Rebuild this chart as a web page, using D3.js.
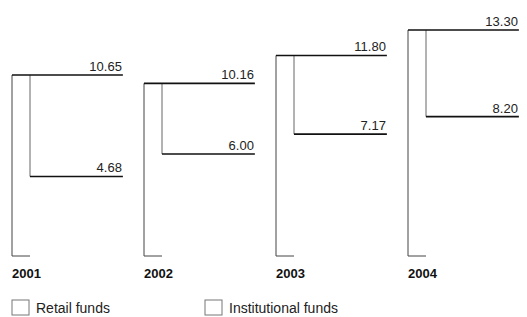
<!DOCTYPE html>
<html>
<head>
<meta charset="utf-8">
<script src="https://cdn.jsdelivr.net/npm/d3@7"></script>
<style>
  body { margin: 0; background: #fff; }
  text { font-family: "Liberation Sans", Arial, sans-serif; fill: #222; }
</style>
</head>
<body>
<script>
'use strict';
const years = ['2001', '2002', '2003', '2004'];
const retailFunds = [10.65, 10.16, 11.80, 13.30];
const institutionalFunds = [4.68, 6.00, 7.17, 8.20];
const legendLabels = ['Retail funds', 'Institutional funds'];

const width = 527, height = 317;
const svg = d3.select('body').append('svg')
    .attr('width', width)
    .attr('height', height);

const x = d3.scaleBand().domain(years).range([12, 540]);
const y = d3.scaleLinear().domain([0, 13.3]).range([256, 30]);
const barW = 18;
const lineW = x.bandwidth() * 0.84;

const data = years.map((yr, i) => ({ year: yr, retail: retailFunds[i], inst: institutionalFunds[i] }));

const g = svg.selectAll('.group')
    .data(data)
    .enter()
    .append('g')
    .attr('class', 'group');

// retail bar outline: left edge + base
g.append('path')
    .attr('d', d => `M${x(d.year) + barW},${y(0)}H${x(d.year)}V${y(d.retail)}`)
    .attr('fill', 'none')
    .attr('stroke', '#444')
    .attr('stroke-width', 1);

// institutional bar edge
g.append('line')
    .attr('x1', d => x(d.year) + barW)
    .attr('x2', d => x(d.year) + barW)
    .attr('y1', d => y(d.retail))
    .attr('y2', d => y(d.inst))
    .attr('stroke', '#666')
    .attr('stroke-width', 1);

// value leader lines
g.append('line')
    .attr('x1', d => x(d.year))
    .attr('x2', d => x(d.year) + lineW)
    .attr('y1', d => y(d.retail))
    .attr('y2', d => y(d.retail))
    .attr('stroke', '#111')
    .attr('stroke-width', 1.6);
g.append('line')
    .attr('x1', d => x(d.year) + barW)
    .attr('x2', d => x(d.year) + lineW)
    .attr('y1', d => y(d.inst))
    .attr('y2', d => y(d.inst))
    .attr('stroke', '#111')
    .attr('stroke-width', 1.6);

// value labels
g.append('text')
    .attr('x', d => x(d.year) + lineW - 1)
    .attr('y', d => y(d.retail) - 4)
    .attr('text-anchor', 'end')
    .style('font-size', '13px')
    .text(d => d.retail.toFixed(2));
g.append('text')
    .attr('x', d => x(d.year) + lineW - 1)
    .attr('y', d => y(d.inst) - 4)
    .attr('text-anchor', 'end')
    .style('font-size', '13px')
    .text(d => d.inst.toFixed(2));

// year labels
g.append('text')
    .attr('x', d => x(d.year))
    .attr('y', 278)
    .style('font-size', '13px')
    .style('font-weight', 'bold')
    .style('fill', '#111')
    .text(d => d.year);

// legend
const legend = svg.selectAll('.legend')
    .data(legendLabels)
    .enter()
    .append('g')
    .attr('class', 'legend')
    .attr('transform', (d, i) => `translate(${12 + i * 193}, 300)`);
legend.append('rect')
    .attr('width', 17)
    .attr('height', 15)
    .attr('fill', '#fff')
    .attr('stroke', '#777')
    .attr('stroke-width', 1);
legend.append('text')
    .attr('x', 24)
    .attr('y', 13)
    .style('font-size', '14px')
    .text(d => d);
</script>
</body>
</html>
